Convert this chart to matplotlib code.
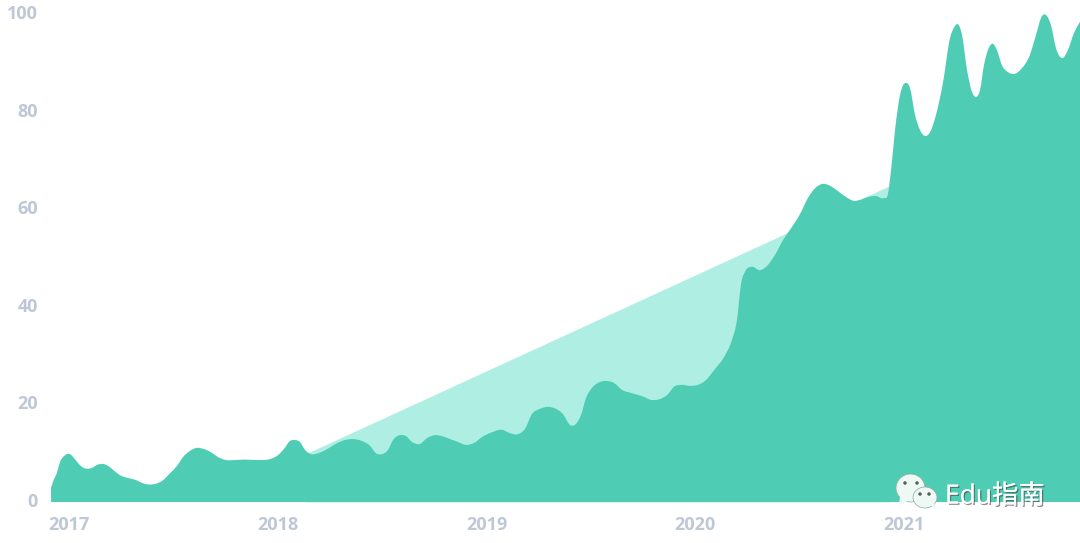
#! /usr/bin/env python

import numpy as np
import matplotlib
matplotlib.use("Agg")
import matplotlib.pyplot as plt
import matplotlib.patheffects as pe
from matplotlib.patches import Ellipse, Polygon, PathPatch
from matplotlib.path import Path
from matplotlib.transforms import Affine2D

# interest over time
years = [2016.914, 2016.923, 2016.943, 2016.957, 2016.976, 2017.005, 2017.024, 2017.043, 2017.062, 2017.086,
         2017.110, 2017.134, 2017.163, 2017.187, 2017.211, 2017.244, 2017.283, 2017.321, 2017.350, 2017.378,
         2017.412, 2017.445, 2017.484, 2017.517, 2017.546, 2017.580, 2017.613, 2017.642, 2017.680, 2017.714,
         2017.752, 2017.795, 2017.843, 2017.905, 2017.963, 2018.001, 2018.030, 2018.058, 2018.082, 2018.106,
         2018.130, 2018.159, 2018.193, 2018.231, 2018.269, 2018.307, 2018.355, 2018.403, 2018.442, 2018.470,
         2018.499, 2018.528, 2018.552, 2018.585, 2018.614, 2018.643, 2018.681, 2018.715, 2018.753, 2018.786,
         2018.825, 2018.863, 2018.901, 2018.940, 2018.978, 2019.026, 2019.074, 2019.112, 2019.150, 2019.184,
         2019.217, 2019.256, 2019.294, 2019.332, 2019.366, 2019.399, 2019.428, 2019.452, 2019.476, 2019.505,
         2019.533, 2019.572, 2019.610, 2019.648, 2019.696, 2019.744, 2019.792, 2019.830, 2019.869, 2019.897,
         2019.936, 2019.974, 2020.012, 2020.051, 2020.089, 2020.137, 2020.175, 2020.199, 2020.218, 2020.242,
         2020.271, 2020.309, 2020.348, 2020.381, 2020.420, 2020.463, 2020.501, 2020.539, 2020.573, 2020.611,
         2020.645, 2020.683, 2020.721, 2020.760, 2020.788, 2020.827, 2020.865, 2020.903, 2020.922, 2020.937,
         2020.956, 2020.980, 2021.009, 2021.028, 2021.052, 2021.076, 2021.100, 2021.124, 2021.152, 2021.186,
         2021.219, 2021.243, 2021.258, 2021.277, 2021.301, 2021.325, 2021.344, 2021.363, 2021.382, 2021.401,
         2021.425, 2021.444, 2021.468, 2021.497, 2021.526, 2021.564, 2021.602, 2021.631, 2021.660, 2021.679,
         2021.703, 2021.727, 2021.760, 2021.784, 2021.813, 2021.842]
values = [2.9, 4.1, 6.1, 8.2, 9.4, 9.8, 9.0, 8.0, 7.2, 6.8,
          7.0, 7.6, 7.8, 7.4, 6.6, 5.5, 4.9, 4.5, 3.9, 3.6,
          3.7, 4.3, 5.9, 7.4, 9.2, 10.5, 11.1, 10.9, 10.2, 9.2,
          8.6, 8.6, 8.7, 8.6, 8.8, 9.6, 10.9, 12.5, 12.7, 12.3,
          10.7, 9.8, 10.0, 10.7, 11.7, 12.5, 12.9, 12.5, 11.5, 10.0,
          9.8, 10.7, 12.7, 13.7, 13.5, 12.3, 11.9, 13.1, 13.7, 13.5,
          12.9, 12.3, 11.7, 12.1, 13.3, 14.3, 14.8, 14.1, 13.9, 15.0,
          18.0, 19.1, 19.5, 19.1, 18.0, 15.8, 16.0, 17.8, 21.3, 23.4,
          24.4, 24.8, 24.4, 23.0, 22.3, 21.7, 20.9, 21.1, 22.1, 23.6,
          24.0, 23.8, 24.0, 25.0, 27.0, 29.7, 33.2, 37.3, 44.5, 47.5,
          48.2, 47.5, 48.6, 50.6, 53.7, 56.4, 59.0, 62.3, 64.3, 65.2,
          64.8, 63.7, 62.5, 61.7, 61.9, 62.5, 62.7, 62.3, 63.1, 68.0,
          76.2, 83.4, 85.9, 84.8, 79.3, 76.2, 75.0, 75.8, 79.3, 86.0,
          95.0, 97.5, 97.9, 95.7, 88.5, 84.0, 83.0, 84.4, 89.5, 92.6,
          93.9, 92.6, 89.5, 88.1, 87.7, 88.9, 91.6, 95.7, 99.6, 99.8,
          97.7, 93.0, 91.0, 92.6, 96.1, 98.4]

trend_years = [2018.13, 2020.93]
trend_values = [9.8, 64.8]

xtick_years = [2017, 2018, 2019, 2020, 2021]
ytick_values = [0, 20, 40, 60, 80, 100]
watermark = "Edu指南"

plt.rcParams['font.family'] = ['Open Sans', 'DejaVu Sans']
label_color = '#bec7d5'


# area under a smooth bezier through the read points
def smooth_area(xs, ys):
    xs = np.array(xs)
    ys = np.array(ys)
    slopes = np.gradient(ys, xs)
    verts = [(xs[0], 0), (xs[0], ys[0])]
    codes = [Path.MOVETO, Path.LINETO]
    for i in range(len(xs) - 1):
        d = (xs[i + 1] - xs[i]) / 3
        verts += [(xs[i] + d, ys[i] + slopes[i] * d),
                  (xs[i + 1] - d, ys[i + 1] - slopes[i + 1] * d),
                  (xs[i + 1], ys[i + 1])]
        codes += [Path.CURVE4] * 3
    verts += [(xs[-1], 0), (xs[0], 0)]
    codes += [Path.LINETO, Path.CLOSEPOLY]
    return Path(verts, codes)


fig = plt.figure(figsize=(10.8, 5.43), dpi=100, facecolor='white')
ax = fig.add_axes([0, 0, 1, 1])
ax.axis('off')
ax.set_xlim(2017 - 69 / 208.8, 2017 + 1011 / 208.8)
ax.set_ylim(-41 / 4.88, 502 / 4.88)

ax.fill_between(trend_years, trend_values, 0, color='#aeeee3', lw=0)
ax.add_patch(PathPatch(smooth_area(years, values), fc='#4ecdb4', ec='none'))

for y in xtick_years:
    ax.text(y, -4.8, str(y), color=label_color, fontsize=13, fontweight='bold', ha='center', va='center')
for v in ytick_values:
    ax.text(2016.85, v, str(v), color=label_color, fontsize=13, fontweight='bold', ha='right', va='center')

# watermark sits in picture pixels, not data
px = Affine2D().scale(1 / 1080, -1 / 543).translate(0, 1) + fig.transFigure
bubbles = [(910.5, 488, 29, 28), (925, 497.5, 24, 21)]
tails = [[(900, 497), (899, 505), (908, 501)], [(931, 505), (936, 510), (934, 503)]]
for b, t in zip(bubbles, tails):
    fig.add_artist(Ellipse((b[0], b[1]), b[2], b[3], fc='#eef8f5', ec='#8fa8a1', lw=0.5, transform=px))
    fig.add_artist(Polygon(t, fc='#eef8f5', ec='none', transform=px))
for ex, ey in [(905, 483), (917, 483), (920, 494), (929, 494)]:
    fig.add_artist(Ellipse((ex, ey), 3.5, 3.5, fc='#55625e', ec='none', transform=px))

fig.text(945, 497, watermark, color='white', fontsize=19, va='center', ha='left', transform=px,
         family=['Open Sans', 'Noto Sans CJK SC'],
         path_effects=[pe.withSimplePatchShadow(offset=(1, -1), shadow_rgbFace='#444444', alpha=0.6), pe.Normal()])

fig.savefig('out.png', dpi=100)
